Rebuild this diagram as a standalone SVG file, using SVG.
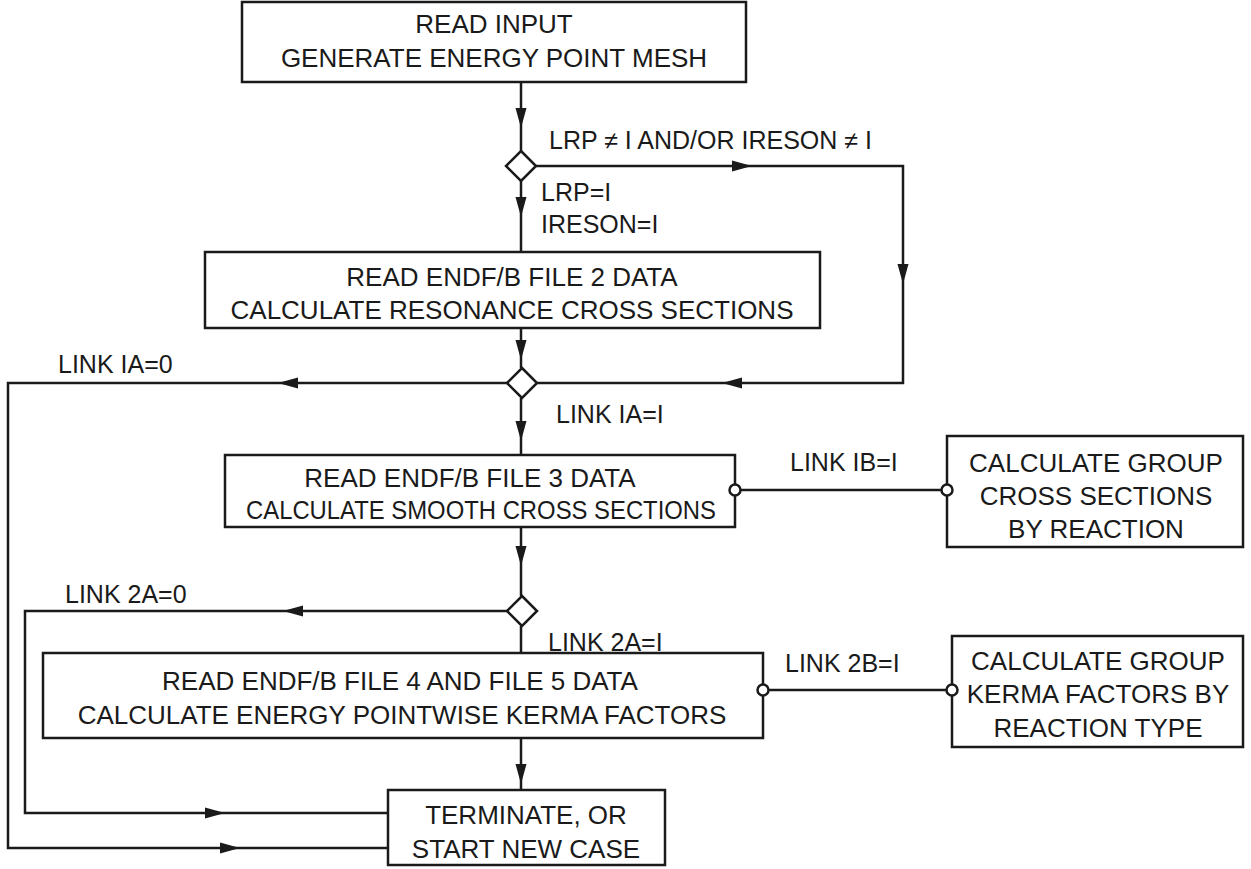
<svg xmlns="http://www.w3.org/2000/svg" xmlns:xlink="http://www.w3.org/1999/xlink" width="1251" height="869" viewBox="0 0 1251 869">
<style>
.box{fill:#fff;stroke:#1a1a1a;stroke-width:2.5}
.ln{fill:none;stroke:#1a1a1a;stroke-width:2.5}
.dot{fill:#fff;stroke:#1a1a1a;stroke-width:2.5}
.t{font-family:"Liberation Sans",Arial,sans-serif;font-size:26px;fill:#1a1a1a;text-anchor:middle}
.l{font-family:"Liberation Sans",Arial,sans-serif;font-size:25px;fill:#1a1a1a}
</style>
<defs>
<path id="ah" d="M0,0 L-20,-5.5 L-20,5.5 Z" fill="#1a1a1a"/>
</defs>
<rect width="1251" height="869" fill="#fff"/>
<g id="connectors">
<path class="ln" d="M521,82 V151"/>
<use xlink:href="#ah" transform="translate(521,128) rotate(90)"/>
<path class="ln" d="M536,166 H903 V383 H537"/>
<use xlink:href="#ah" transform="translate(752,166)"/>
<use xlink:href="#ah" transform="translate(903,284) rotate(90)"/>
<use xlink:href="#ah" transform="translate(722,383) rotate(180)"/>
<path class="ln" d="M521,181 V252"/>
<use xlink:href="#ah" transform="translate(521,217) rotate(90)"/>
<path class="ln" d="M521,328 V368"/>
<use xlink:href="#ah" transform="translate(521,360) rotate(90)"/>
<path class="ln" d="M507,383 H8 V848 H388"/>
<use xlink:href="#ah" transform="translate(278,383) rotate(180)"/>
<use xlink:href="#ah" transform="translate(240,848)"/>
<path class="ln" d="M521,398 V455"/>
<use xlink:href="#ah" transform="translate(521,441) rotate(90)"/>
<path class="ln" d="M735,490 H947"/>
<path class="ln" d="M521,527 V596"/>
<use xlink:href="#ah" transform="translate(521,566) rotate(90)"/>
<path class="ln" d="M507,611 H25 V813 H388"/>
<use xlink:href="#ah" transform="translate(283,611) rotate(180)"/>
<use xlink:href="#ah" transform="translate(225,813)"/>
<path class="ln" d="M521,626 V653"/>
<path class="ln" d="M763,690 H947"/>
<path class="ln" d="M521,738 V790"/>
<use xlink:href="#ah" transform="translate(521,784) rotate(90)"/>
<text class="l" x="549" y="149">LRP ≠ I AND/OR IRESON ≠ I</text>
<text class="l" x="541" y="201">LRP=I</text>
<text class="l" x="541" y="233">IRESON=I</text>
<text class="l" x="58" y="373">LINK IA=0</text>
<text class="l" x="556" y="423">LINK IA=I</text>
<text class="l" x="790" y="471">LINK IB=I</text>
<text class="l" x="65" y="603">LINK 2A=0</text>
<text class="l" x="548" y="651">LINK 2A=I</text>
<text class="l" x="785" y="672">LINK 2B=I</text>
</g>
<g id="read-input">
<rect class="box" x="242" y="2" width="504" height="80"/>
<text class="t" x="494" y="33">READ INPUT</text>
<text class="t" x="494" y="67">GENERATE ENERGY POINT MESH</text>
</g>
<g id="d1"><polygon class="box" points="521,151 536,166 521,181 506,166"/></g>
<g id="file2">
<rect class="box" x="205" y="252" width="615" height="76"/>
<text class="t" x="512" y="286">READ ENDF/B FILE 2 DATA</text>
<text class="t" x="512" y="319">CALCULATE RESONANCE CROSS SECTIONS</text>
</g>
<g id="d2"><polygon class="box" points="522,368 537,383 522,398 507,383"/></g>
<g id="file3">
<rect class="box" x="225" y="455" width="510" height="72"/>
<text class="t" x="470" y="487">READ ENDF/B FILE 3 DATA</text>
<text class="t" x="481" y="519" textLength="470" lengthAdjust="spacingAndGlyphs">CALCULATE SMOOTH CROSS SECTIONS</text>
<circle class="dot" cx="735" cy="490" r="5.5"/>
</g>
<g id="group-xs">
<rect class="box" x="947" y="436" width="296" height="111"/>
<text class="t" x="1096" y="472">CALCULATE GROUP</text>
<text class="t" x="1096" y="505">CROSS SECTIONS</text>
<text class="t" x="1096" y="538">BY REACTION</text>
<circle class="dot" cx="947" cy="490" r="5.5"/>
</g>
<g id="d3"><polygon class="box" points="522,596 537,611 522,626 507,611"/></g>
<g id="file45">
<rect class="box" x="43" y="653" width="720" height="85"/>
<text class="t" x="400" y="690">READ ENDF/B FILE 4 AND FILE 5 DATA</text>
<text class="t" x="402" y="724">CALCULATE ENERGY POINTWISE KERMA FACTORS</text>
<circle class="dot" cx="763" cy="690" r="5.5"/>
</g>
<g id="group-kerma">
<rect class="box" x="952" y="636" width="291" height="111"/>
<text class="t" x="1098" y="670">CALCULATE GROUP</text>
<text class="t" x="1098" y="703">KERMA FACTORS BY</text>
<text class="t" x="1098" y="737">REACTION TYPE</text>
<circle class="dot" cx="952" cy="690" r="5.5"/>
</g>
<g id="terminate">
<rect class="box" x="388" y="790" width="277" height="75"/>
<text class="t" x="526" y="824">TERMINATE, OR</text>
<text class="t" x="526" y="858">START NEW CASE</text>
</g>
</svg>
